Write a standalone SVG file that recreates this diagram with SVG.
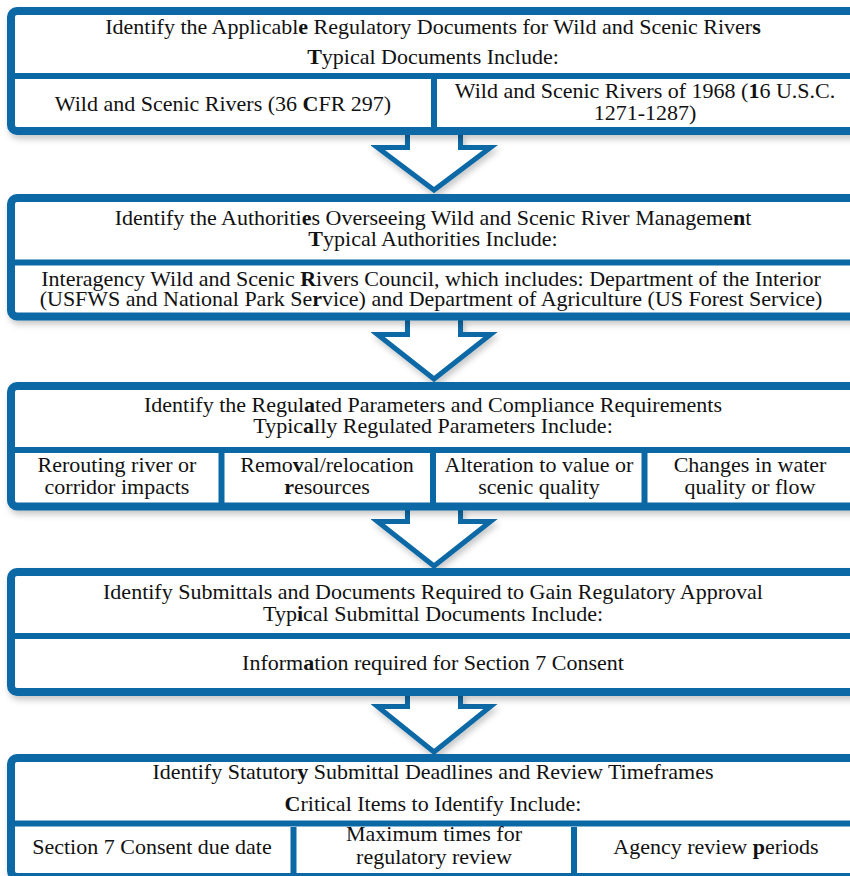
<svg xmlns="http://www.w3.org/2000/svg" width="850" height="876" viewBox="0 0 850 876">
  <defs>
    <filter id="shadow" x="-5%" y="-10%" width="115%" height="130%">
      <feDropShadow dx="2" dy="4" stdDeviation="3" flood-color="#000" flood-opacity="0.22"/>
    </filter>
  </defs>
  <style>
    .box { fill: #ffffff; stroke: #0a69a5; stroke-width: 8; }
    .rule { stroke: #0a69a5; stroke-width: 6; fill: none; }
    .vrule { stroke: #0a69a5; stroke-width: 6; fill: none; }
    .arrow { fill: #ffffff; stroke: #0a69a5; stroke-width: 5; stroke-linejoin: miter; }
    text { font-family: "Liberation Serif", "Times New Roman", serif; font-size: 22px; fill: #111111; text-anchor: middle; }
    .b { font-weight: bold; }
  </style>

  <!-- flow arrows between stages -->
  <g id="connectors">
    <path class="arrow" filter="url(#shadow)" d="M407.5,133 V147.5 H377.5 L434,190 L490.5,147.5 H460.5 V133"/>
    <path class="arrow" filter="url(#shadow)" d="M407.5,318 V334.5 H377.5 L434,379 L490.5,334.5 H460.5 V318"/>
    <path class="arrow" filter="url(#shadow)" d="M407.5,507 V521.5 H377.5 L434,566 L490.5,521.5 H460.5 V507"/>
    <path class="arrow" filter="url(#shadow)" d="M407.5,693 V706.5 H377.5 L434,752 L490.5,706.5 H460.5 V693"/>
  </g>

  <!-- stage 1: regulatory documents -->
  <g id="stage-documents">
    <rect class="box" filter="url(#shadow)" x="11" y="11" width="848" height="120" rx="6"/>
    <line class="rule" x1="15" y1="76" x2="855" y2="76"/>
    <line class="vrule" x1="434" y1="79" x2="434" y2="127"/>
    <text x="433" y="34">Identify the Applicabl<tspan class="b">e</tspan> Regulatory Documents for Wild and Scenic River<tspan class="b">s</tspan></text>
    <text x="433" y="64"><tspan class="b">T</tspan>ypical Documents Include:</text>
    <text x="223" y="111">Wild and Scenic Rivers (36 <tspan class="b">C</tspan>FR 297)</text>
    <text x="645" y="98">Wild and Scenic Rivers of 1968 (<tspan class="b">1</tspan>6 U.S.C.</text>
    <text x="645" y="120">1271-1287)</text>
  </g>

  <!-- stage 2: authorities -->
  <g id="stage-authorities">
    <rect class="box" filter="url(#shadow)" x="11" y="198" width="848" height="118.5" rx="6"/>
    <line class="rule" x1="15" y1="262.5" x2="855" y2="262.5"/>
    <text x="433" y="225">Identify the Authoriti<tspan class="b">e</tspan>s Overseeing Wild and Scenic River Manageme<tspan class="b">n</tspan>t</text>
    <text x="433" y="246"><tspan class="b">T</tspan>ypical Authorities Include:</text>
    <text x="431" y="286">Interagency Wild and Scenic <tspan class="b">R</tspan>ivers Council, which includes:  Department of the Interior</text>
    <text x="431" y="306">(USFWS and National Park Se<tspan class="b">r</tspan>vice) and Department of Agriculture (US Forest Service)</text>
  </g>

  <!-- stage 3: regulated parameters -->
  <g id="stage-parameters">
    <rect class="box" filter="url(#shadow)" x="11" y="386" width="848" height="120.5" rx="6"/>
    <line class="rule" x1="15" y1="450" x2="855" y2="450"/>
    <line class="vrule" x1="221.5" y1="453" x2="221.5" y2="503"/>
    <line class="vrule" x1="433" y1="453" x2="433" y2="503"/>
    <line class="vrule" x1="644.5" y1="453" x2="644.5" y2="503"/>
    <text x="433" y="412">Identify the Regul<tspan class="b">a</tspan>ted Parameters and Compliance Requirements</text>
    <text x="433" y="433">Typic<tspan class="b">a</tspan>lly Regulated Parameters Include:</text>
    <text x="117" y="472">Rerouting river or</text>
    <text x="117" y="494">corridor impacts</text>
    <text x="327" y="472">Remo<tspan class="b">v</tspan>al/relocation</text>
    <text x="327" y="494"><tspan class="b">r</tspan>esources</text>
    <text x="539" y="472">Alteration to value or</text>
    <text x="539" y="494">scenic quality</text>
    <text x="750" y="472">Changes in water</text>
    <text x="750" y="494">quality or flow</text>
  </g>

  <!-- stage 4: submittals -->
  <g id="stage-submittals">
    <rect class="box" filter="url(#shadow)" x="11" y="572" width="848" height="120" rx="6"/>
    <line class="rule" x1="15" y1="636" x2="855" y2="636"/>
    <text x="433" y="599">Identify Submittals and Documents Required to Gain Regulatory Approval</text>
    <text x="433" y="621">Typ<tspan class="b">i</tspan>cal Submittal Documents Include:</text>
    <text x="433" y="670">Inform<tspan class="b">a</tspan>tion required for Section 7 Consent</text>
  </g>

  <!-- stage 5: deadlines -->
  <g id="stage-deadlines">
    <rect class="box" filter="url(#shadow)" x="11" y="758" width="848" height="119" rx="6"/>
    <line class="rule" x1="15" y1="823.5" x2="855" y2="823.5"/>
    <line class="vrule" x1="293.5" y1="827" x2="293.5" y2="873"/>
    <line class="vrule" x1="574" y1="827" x2="574" y2="873"/>
    <text x="433" y="779">Identify Statutor<tspan class="b">y</tspan> Submittal Deadlines and Review Timeframes</text>
    <text x="433" y="811"><tspan class="b">C</tspan>ritical Items to Identify Include:</text>
    <text x="152" y="854">Section 7 Consent due date</text>
    <text x="434" y="841">Maximum times for</text>
    <text x="434" y="864">regulatory review</text>
    <text x="716" y="854">Agency review <tspan class="b">p</tspan>eriods</text>
  </g>
</svg>
